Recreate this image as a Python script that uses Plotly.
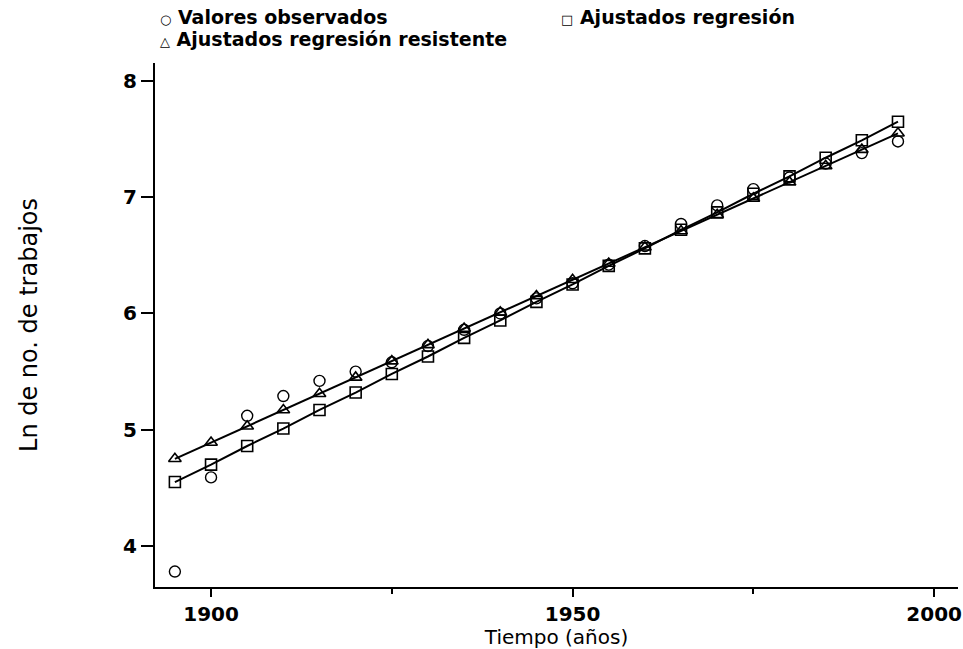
import plotly.graph_objects as go

years = [1895, 1900, 1905, 1910, 1915, 1920, 1925, 1930, 1935, 1940, 1945,
         1950, 1955, 1960, 1965, 1970, 1975, 1980, 1985, 1990, 1995]
observed = [3.78, 4.59, 5.12, 5.29, 5.42, 5.50, 5.58, 5.72, 5.86, 6.00, 6.13,
            6.26, 6.42, 6.58, 6.77, 6.93, 7.07, 7.17, 7.29, 7.38, 7.48]
fit_ols = [4.55, 4.70, 4.86, 5.01, 5.17, 5.32, 5.48, 5.63, 5.79, 5.94, 6.10,
           6.25, 6.41, 6.56, 6.72, 6.87, 7.03, 7.18, 7.34, 7.49, 7.65]
fit_resistant = [4.75, 4.89, 5.03, 5.17, 5.31, 5.45, 5.59, 5.73, 5.87, 6.01, 6.15,
                 6.29, 6.43, 6.57, 6.71, 6.85, 6.99, 7.13, 7.27, 7.41, 7.55]

x_ticks = [1900, 1950, 2000]
y_ticks = [4, 5, 6, 7, 8]

legend_names = ["Valores observados", "Ajustados regresión", "Ajustados regresión resistente"]
legend_glyphs = ["○", "□", "△"]

W, H = 963, 649
ML, MR, MT, MB = 155, 5, 63, 62
PW, PH = W - ML - MR, H - MT - MB

fig = go.Figure()
fig.add_trace(go.Scatter(x=years, y=fit_resistant, mode="lines+markers", name=legend_names[2],
                         showlegend=False, line=dict(color="black", width=2),
                         marker=dict(symbol="triangle-up-open", size=11, color="black",
                                     line=dict(width=1.6, color="black"))))
fig.add_trace(go.Scatter(x=years, y=fit_ols, mode="lines+markers", name=legend_names[1],
                         showlegend=False, line=dict(color="black", width=2),
                         marker=dict(symbol="square-open", size=11, color="black",
                                     line=dict(width=1.6, color="black"))))
fig.add_trace(go.Scatter(x=years, y=observed, mode="markers", name=legend_names[0],
                         showlegend=False,
                         marker=dict(symbol="circle-open", size=11, color="black",
                                     line=dict(width=1.4, color="black"))))

# legend drawn as annotations (pixel positions -> paper coords)
legend_pos = [(158, 17), (559, 17), (158, 39)]
for nm, gl, (px, py) in zip(legend_names, legend_glyphs, legend_pos):
    fig.add_annotation(
        text=f"<span style='font-size:13px;font-weight:normal'>{gl}</span> {nm}",
        xref="paper", yref="paper",
        x=(px - ML) / PW, y=(H - MB - py) / PH,
        xanchor="left", yanchor="middle", showarrow=False,
        font=dict(family="DejaVu Sans", size=19, weight="bold", color="black"))

fig.update_layout(
    width=W, height=H,
    margin=dict(l=ML, r=MR, t=MT, b=MB, autoexpand=False),
    paper_bgcolor="white", plot_bgcolor="white",
    font=dict(family="DejaVu Sans", color="black"),
    showlegend=False,
    xaxis=dict(range=[1892.25, 2003.3], tickvals=x_ticks, showgrid=False, zeroline=False,
               showline=True, linecolor="black", linewidth=2, mirror=False, automargin=False,
               ticks="outside", ticklen=8, tickwidth=2, tickcolor="black",
               ticklabeloverflow="allow",
               minor=dict(tickvals=[1925, 1975], ticks="outside", ticklen=5, tickwidth=1.5, tickcolor="black"),
               tickfont=dict(family="DejaVu Sans", size=20, weight="bold"),
               title=dict(text="Tiempo (años)", font=dict(family="DejaVu Sans", size=20), standoff=0)),
    yaxis=dict(range=[3.647, 8.155], tickvals=y_ticks, showgrid=False, zeroline=False,
               showline=True, linecolor="black", linewidth=2, mirror=False, automargin=False,
               ticks="outside", ticklen=12, tickwidth=2, tickcolor="black",
               tickfont=dict(family="DejaVu Sans", size=20, weight="bold"),
               title=dict(text="Ln de no. de trabajos", font=dict(family="DejaVu Sans", size=24), standoff=79)),
)

fig.write_html("out.html", config={"displayModeBar": False},
               post_script="document.body.style.margin='0';document.body.style.overflow='hidden';")
